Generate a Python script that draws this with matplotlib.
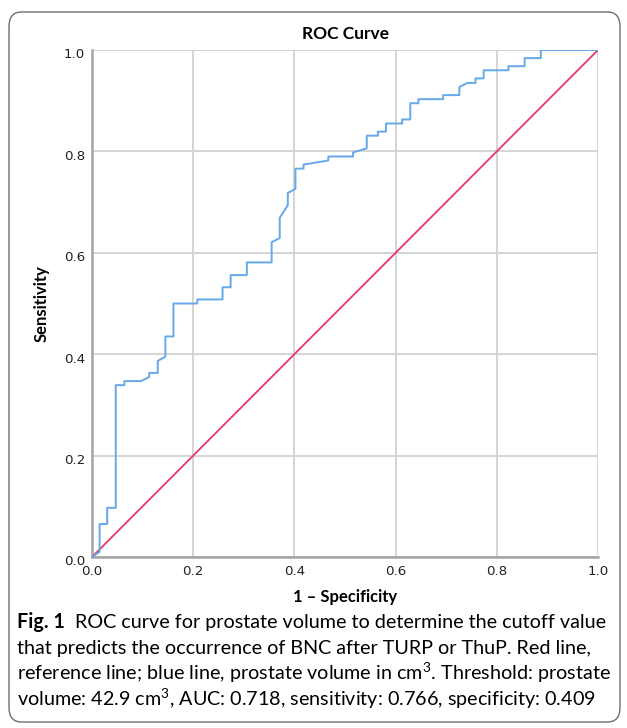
import matplotlib.pyplot as plt
import matplotlib.transforms as mtransforms
from matplotlib.patches import FancyBboxPatch

plt.rcParams["mathtext.fontset"] = "custom"
plt.rcParams["mathtext.rm"] = "Lato"
plt.rcParams["mathtext.it"] = "Lato:italic"
plt.rcParams["mathtext.bf"] = "Lato:bold"

# ROC curve vertices (1 - specificity, sensitivity)
fpr = [0.0, 0.015, 0.015, 0.030, 0.030, 0.047, 0.047, 0.064, 0.064, 0.097,
       0.113, 0.113, 0.130, 0.130, 0.145, 0.145, 0.161, 0.161, 0.208, 0.208,
       0.258, 0.258, 0.274, 0.274, 0.306, 0.306, 0.355, 0.355, 0.371, 0.371,
       0.387, 0.387, 0.402, 0.402, 0.418, 0.418, 0.467, 0.467, 0.516, 0.516,
       0.543, 0.543, 0.565, 0.565, 0.581, 0.581, 0.613, 0.613, 0.629, 0.629,
       0.645, 0.645, 0.694, 0.694, 0.726, 0.726, 0.742, 0.758, 0.758, 0.774,
       0.774, 0.823, 0.823, 0.855, 0.855, 0.887, 0.887, 1.0]
tpr = [0.0, 0.010, 0.065, 0.065, 0.097, 0.097, 0.339, 0.339, 0.347, 0.347,
       0.355, 0.363, 0.363, 0.387, 0.395, 0.435, 0.435, 0.500, 0.500, 0.508,
       0.508, 0.532, 0.532, 0.556, 0.556, 0.581, 0.581, 0.621, 0.629, 0.669,
       0.694, 0.718, 0.726, 0.766, 0.766, 0.774, 0.782, 0.790, 0.790, 0.798,
       0.806, 0.831, 0.831, 0.839, 0.839, 0.855, 0.855, 0.863, 0.863, 0.895,
       0.895, 0.903, 0.903, 0.911, 0.911, 0.927, 0.935, 0.935, 0.944, 0.944,
       0.960, 0.960, 0.968, 0.968, 0.984, 0.984, 1.0, 1.0]
ref_x = [0.0, 1.0]
ref_y = [0.0, 1.0]
ticks = [0.0, 0.2, 0.4, 0.6, 0.8, 1.0]

caption_bold = "Fig. 1"
caption_lines = [
    "  ROC curve for prostate volume to determine the cutoff value",
    "that predicts the occurrence of BNC after TURP or ThuP. Red line,",
    "reference line; blue line, prostate volume in cm$^{3}$. Threshold: prostate",
    "volume: 42.9 cm$^{3}$, AUC: 0.718, sensitivity: 0.766, specificity: 0.409",
]

W, H = 627, 728
fig = plt.figure(figsize=(W / 100, H / 100), dpi=100)

# rounded frame round the whole figure
frame = FancyBboxPatch((9 / W, 6 / H), 611 / W, 710 / H,
                       boxstyle="round,pad=0,rounding_size=0.02",
                       transform=fig.transFigure, facecolor="none",
                       edgecolor="#6e6e6e", linewidth=1.0)
fig.patches.append(frame)

ax = fig.add_axes([92 / W, (H - 557) / H, 506 / W, 507 / H])
ax.plot(ref_x, ref_y, color="#e8356a", linewidth=1.3, zorder=3)
ax.plot(fpr, tpr, color="#66a8ea", linewidth=1.4, zorder=4)

ax.set_xlim(0, 1)
ax.set_ylim(0, 1)
ax.set_xticks(ticks)
ax.set_yticks(ticks)
ax.set_xticklabels([f"{t:.1f}" for t in ticks])
ax.set_yticklabels([f"{t:.1f}" for t in ticks])
ax.grid(True, color="#d4d4d4", linewidth=1.4)
ax.set_axisbelow(True)
for side in ["top", "right"]:
    ax.spines[side].set_visible(False)
for side in ["left", "bottom"]:
    ax.spines[side].set_color("#a4a4a4")
    ax.spines[side].set_linewidth(1.8)
ax.tick_params(axis="both", length=0, labelsize=9.6, labelcolor="#222222")
ax.tick_params(axis="y", pad=5)
ax.tick_params(axis="x", pad=6)
# SPSS puts the y tick labels a touch below their gridline
shift = mtransforms.ScaledTranslation(0, -2.5 / 72, fig.dpi_scale_trans)
for lab in ax.get_yticklabels():
    lab.set_transform(lab.get_transform() + shift)

ax.set_title("ROC Curve", family="Lato", fontweight="bold", fontsize=12.5, pad=8)
ax.set_xlabel("1 \u2013 Specificity", family="Lato", fontweight="bold",
              fontsize=12, labelpad=8)
ax.set_ylabel("Sensitivity", family="Lato", fontweight="bold", fontsize=12,
              labelpad=10)

# caption: bold "Fig. 1" then regular text
cap_size = 14.2
x0 = 17
line_y = [628, 654, 680, 706]
renderer = fig.canvas.get_renderer()
t = fig.text(x0 / W, 1 - line_y[0] / H, caption_bold, family="Lato",
             fontweight="bold", fontsize=cap_size, va="baseline", ha="left")
bb = t.get_window_extent(renderer)
fig.text(bb.x1 / W, 1 - line_y[0] / H, caption_lines[0], family="Lato",
         fontsize=cap_size, va="baseline", ha="left")
for line, y in zip(caption_lines[1:], line_y[1:]):
    fig.text(x0 / W, 1 - y / H, line, family="Lato", fontsize=cap_size,
             va="baseline", ha="left")

fig.savefig("out.png", dpi=100)
